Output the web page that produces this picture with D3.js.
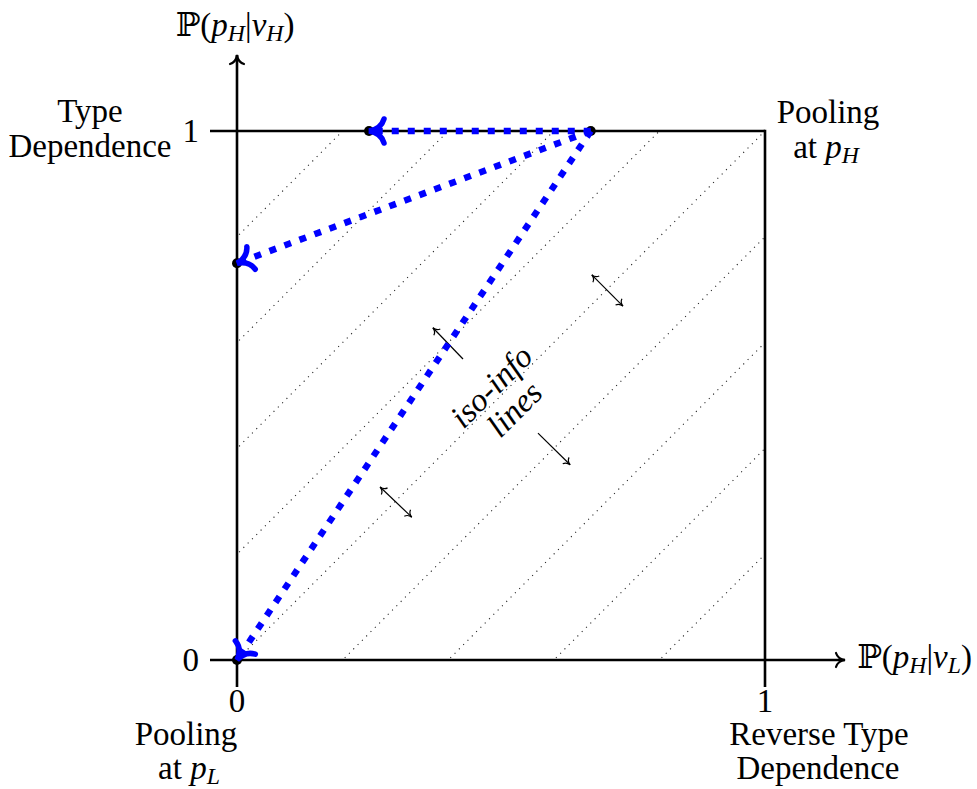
<!DOCTYPE html>
<html>
<head>
<meta charset="utf-8">
<script src="https://cdn.jsdelivr.net/npm/d3@7"></script>
<style>
  body { margin: 0; background: #fff; }
  text { font-family: "Liberation Serif", "DejaVu Serif", serif; fill: #000; }
</style>
</head>
<body>
<svg width="977" height="789"></svg>
<script>
// iso-info lines: y = x + c
var isoOffsets = [-0.8, -0.6, -0.4, -0.2, 0, 0.2, 0.4, 0.6, 0.8];
// marked points (P(pH|vL), P(pH|vH))
var startPoint = [0.67, 1];
var endPoints = [[0.25, 1], [0, 0.75], [0, 0]];
var axisTicks = [0, 1];
// small arrows across the iso lines: [x1, y1, x2, y2, heads]
var crossArrows = [
  [0.672, 0.728, 0.731, 0.669, "both"],
  [0.271, 0.327, 0.331, 0.270, "both"],
  [0.428, 0.569, 0.371, 0.628, "end"],
  [0.570, 0.429, 0.631, 0.369, "end"]
];

var svg = d3.select("svg");
var x = d3.scaleLinear().domain([0, 1]).range([237, 765]);
var y = d3.scaleLinear().domain([0, 1]).range([660, 131]);

// curved "to" arrow tip, tip at (tx,ty), coming from (fx,fy)
function tipPath(fx, fy, tx, ty, len, spread) {
  var dx = tx - fx, dy = ty - fy, l = Math.hypot(dx, dy);
  dx /= l; dy /= l;
  var nx = -dy, ny = dx;
  var cx = tx - dx * len * 0.8, cy = ty - dy * len * 0.8;
  var ax = tx - dx * len + nx * spread, ay = ty - dy * len + ny * spread;
  var bx = tx - dx * len - nx * spread, by = ty - dy * len - ny * spread;
  return "M" + ax + "," + ay + "Q" + (cx + nx * spread * 0.15) + "," + (cy + ny * spread * 0.15) +
    " " + tx + "," + ty + "Q" + (cx - nx * spread * 0.15) + "," + (cy - ny * spread * 0.15) +
    " " + bx + "," + by;
}

//dotted iso-info lines
svg.append("g").selectAll("line")
  .data(isoOffsets)
  .enter().append("line")
  .attr("x1", c => x(Math.max(0, -c)))
  .attr("y1", c => y(Math.max(0, -c) + c))
  .attr("x2", c => x(Math.min(1, 1 - c)))
  .attr("y2", c => y(Math.min(1, 1 - c) + c))
  .attr("stroke", "#222")
  .attr("stroke-width", 1.1)
  .attr("stroke-dasharray", "1.1 5")
  .attr("stroke-dashoffset", -3);

// axes and the unit square
var frame = svg.append("g")
  .attr("stroke", "#000")
  .attr("stroke-width", 2.6)
  .attr("fill", "none");
frame.append("line").attr("x1", 210).attr("x2", 845).attr("y1", y(0)).attr("y2", y(0));
frame.append("line").attr("x1", x(0)).attr("x2", x(0)).attr("y1", 687).attr("y2", 55);
frame.append("line").attr("x1", 210).attr("x2", x(1)).attr("y1", y(1)).attr("y2", y(1));
frame.append("line").attr("x1", x(1)).attr("x2", x(1)).attr("y1", y(1) - 1.3).attr("y2", 687);
frame.append("path").attr("d", tipPath(800, y(0), 845, y(0), 9, 7)).attr("stroke-width", 2.2).attr("stroke-linecap", "round");
frame.append("path").attr("d", tipPath(x(0), 100, x(0), 55, 9, 7)).attr("stroke-width", 2.2).attr("stroke-linecap", "round");

// little arrows across the iso lines
var ca = svg.append("g").attr("stroke", "#000").attr("fill", "none").attr("stroke-width", 1.2);
crossArrows.forEach(function (a) {
  var x1 = x(a[0]), y1 = y(a[1]), x2 = x(a[2]), y2 = y(a[3]);
  ca.append("line").attr("x1", x1).attr("y1", y1).attr("x2", x2).attr("y2", y2);
  ca.append("path").attr("d", tipPath(x1, y1, x2, y2, 6, 4.5));
  if (a[4] == "both") ca.append("path").attr("d", tipPath(x2, y2, x1, y1, 6, 4.5));
});

// black dots
svg.append("g").selectAll("circle")
  .data([startPoint].concat(endPoints))
  .enter().append("circle")
  .attr("cx", d => x(d[0]))
  .attr("cy", d => y(d[1]))
  .attr("r", 5)
  .attr("fill", "#000");

// blue dotted paths
var blue = svg.append("g");
endPoints.forEach(function (p) {
  blue.append("line")
    .attr("x1", x(startPoint[0])).attr("y1", y(startPoint[1]))
    .attr("x2", x(p[0])).attr("y2", y(p[1]))
    .attr("stroke", "#0000ff")
    .attr("stroke-width", 6.5)
    .attr("stroke-dasharray", "7 9");
  blue.append("path")
    .attr("d", tipPath(x(startPoint[0]), y(startPoint[1]), x(p[0]), y(p[1]), 15, 12))
    .attr("fill", "none")
    .attr("stroke", "#0000ff")
    .attr("stroke-width", 5.5)
    .attr("stroke-linecap", "round");
});

// math text helper: parts are [text, italic, subscript]
function mathText(sel, parts, fs) {
  var shift = fs * 0.16, cur = 0;
  parts.forEach(function (p) {
    var t = sel.append("tspan").text(p[0]);
    if (p[1]) t.attr("font-style", "italic");
    if (p[2]) { t.attr("font-size", fs * 0.72).attr("dy", shift - cur); cur = shift; }
    else { t.attr("dy", -cur); cur = 0; }
  });
}

var FS = 33;
var labels = svg.append("g").attr("font-size", FS);

var yTitle = labels.append("text").attr("x", 235).attr("y", 36).attr("text-anchor", "middle");
mathText(yTitle, [["ℙ("], ["p", 1], ["H", 1, 1], ["|"], ["v", 1], ["H", 1, 1], [")"]], FS);
var xTitle = labels.append("text").attr("x", 857).attr("y", 668);
mathText(xTitle, [["ℙ("], ["p", 1], ["H", 1, 1], ["|"], ["v", 1], ["L", 1, 1], [")"]], FS);

// tick labels
labels.selectAll(".xt").data(axisTicks).enter().append("text")
  .attr("class", "xt")
  .attr("x", d => x(d)).attr("y", 712).attr("text-anchor", "middle")
  .text(d => d);
labels.selectAll(".yt").data(axisTicks).enter().append("text")
  .attr("class", "yt")
  .attr("x", 199).attr("y", d => y(d) + 11).attr("text-anchor", "end")
  .text(d => d);

// corner labels
function plain(txt, cx, by) {
  return labels.append("text").attr("x", cx).attr("y", by).attr("text-anchor", "middle").text(txt);
}
plain("Type", 90, 122);
plain("Dependence", 90, 157);
plain("Pooling", 828, 123);
var atH = labels.append("text").attr("x", 826).attr("y", 158).attr("text-anchor", "middle");
mathText(atH, [["at "], ["p", 1], ["H", 1, 1]], FS);
plain("Pooling", 186, 745);
var atL = labels.append("text").attr("x", 189).attr("y", 779).attr("text-anchor", "middle");
mathText(atL, [["at "], ["p", 1], ["L", 1, 1]], FS);
plain("Reverse Type", 819, 745);
plain("Dependence", 818, 779);

// rotated iso-info label
var iso = labels.append("g").attr("font-style", "italic");
iso.append("text")
  .attr("transform", "translate(" + x(0.483) + "," + y(0.516) + ") rotate(-45)")
  .attr("text-anchor", "middle").attr("dy", 10)
  .text("iso-info");
iso.append("text")
  .attr("transform", "translate(" + x(0.527) + "," + y(0.473) + ") rotate(-45)")
  .attr("text-anchor", "middle").attr("dy", 10)
  .text("lines");
</script>
</body>
</html>
